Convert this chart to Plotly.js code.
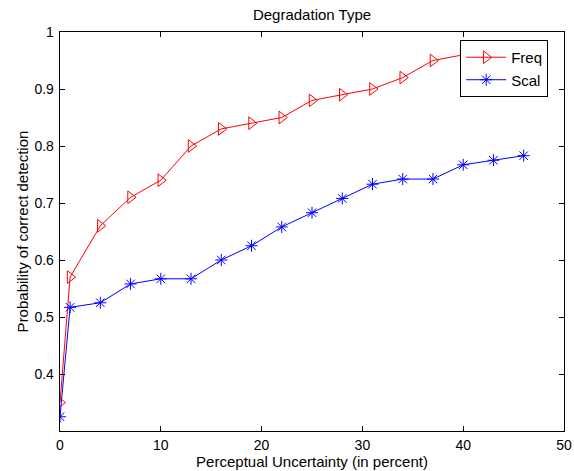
<!DOCTYPE html>
<html>
<head>
<meta charset="utf-8">
<script src="https://cdn.plot.ly/plotly-3.0.1.min.js"></script>
<style>html,body{margin:0;padding:0;background:#fff;}#chart{width:574px;height:471px;}</style>
</head>
<body>
<div id="chart"></div>
<script>
var uncertainty = [0, 1, 4, 7, 10, 13, 16, 19, 22, 25, 28, 31, 34, 37, 40, 43, 46];
var freqValues = [0.35, 0.57, 0.66, 0.71, 0.74, 0.80, 0.83, 0.84, 0.85, 0.88, 0.89, 0.90, 0.92, 0.95, 0.96, 0.965, 0.97];
var scalValues = [0.325, 0.517, 0.525, 0.558, 0.567, 0.567, 0.600, 0.625, 0.658, 0.683, 0.708, 0.733, 0.742, 0.742, 0.767, 0.775, 0.783];
var xTicks = [0, 10, 20, 30, 40, 50];
var yTicks = [0.4, 0.5, 0.6, 0.7, 0.8, 0.9, 1];

var font = 'Liberation Sans, Arial, Helvetica, sans-serif';

var traces = [
  {
    x: uncertainty, y: freqValues, name: 'Freq', type: 'scatter', mode: 'lines+markers',
    line: {color: '#ff0000', width: 1},
    marker: {symbol: 'triangle-right-open', size: 11, color: '#ff0000', line: {width: 1, color: '#ff0000'}}
  },
  {
    x: uncertainty, y: scalValues, name: 'Scal', type: 'scatter', mode: 'lines+markers',
    line: {color: '#0000ff', width: 1},
    marker: {symbol: 'asterisk-open', size: 10, color: '#0000ff', line: {width: 1, color: '#0000ff'}}
  }
];

var axisCommon = {
  showgrid: false, zeroline: false, showline: true, linecolor: '#000', linewidth: 1.3,
  mirror: 'ticks', ticks: 'inside', ticklen: 5, tickwidth: 1, tickcolor: '#000',
  tickfont: {family: font, size: 14, color: '#000'}
};

var layout = {
  width: 574, height: 471,
  margin: {l: 60, r: 10, t: 32, b: 40},
  paper_bgcolor: '#fff', plot_bgcolor: '#fff',
  font: {family: font, color: '#000'},
  title: {text: 'Degradation Type', font: {family: font, size: 15, color: '#000'},
          x: 0.5, xref: 'paper', xanchor: 'center', y: 1 - 15/471, yanchor: 'middle'},
  xaxis: Object.assign({}, axisCommon, {
    range: [0, 50], tickvals: xTicks, ticktext: xTicks.map(String), ticklabelstandoff: 1,
    title: {text: 'Perceptual Uncertainty (in percent)', font: {family: font, size: 15, color: '#000'}, standoff: 4}
  }),
  yaxis: Object.assign({}, axisCommon, {
    range: [0.3, 1], tickvals: yTicks, ticktext: yTicks.map(String), ticklabelstandoff: 2,
    title: {text: 'Probability of correct detection', font: {family: font, size: 15, color: '#000'}, standoff: 2}
  }),
  showlegend: true,
  legend: {
    x: 0.794, y: 0.98, xanchor: 'left', yanchor: 'top',
    bgcolor: '#fff', bordercolor: '#000', borderwidth: 1,
    font: {family: font, size: 15, color: '#000'},
    tracegroupgap: 0, itemwidth: 40
  }
};

Plotly.newPlot('chart', traces, layout, {displayModeBar: false, staticPlot: true});
</script>
</body>
</html>
